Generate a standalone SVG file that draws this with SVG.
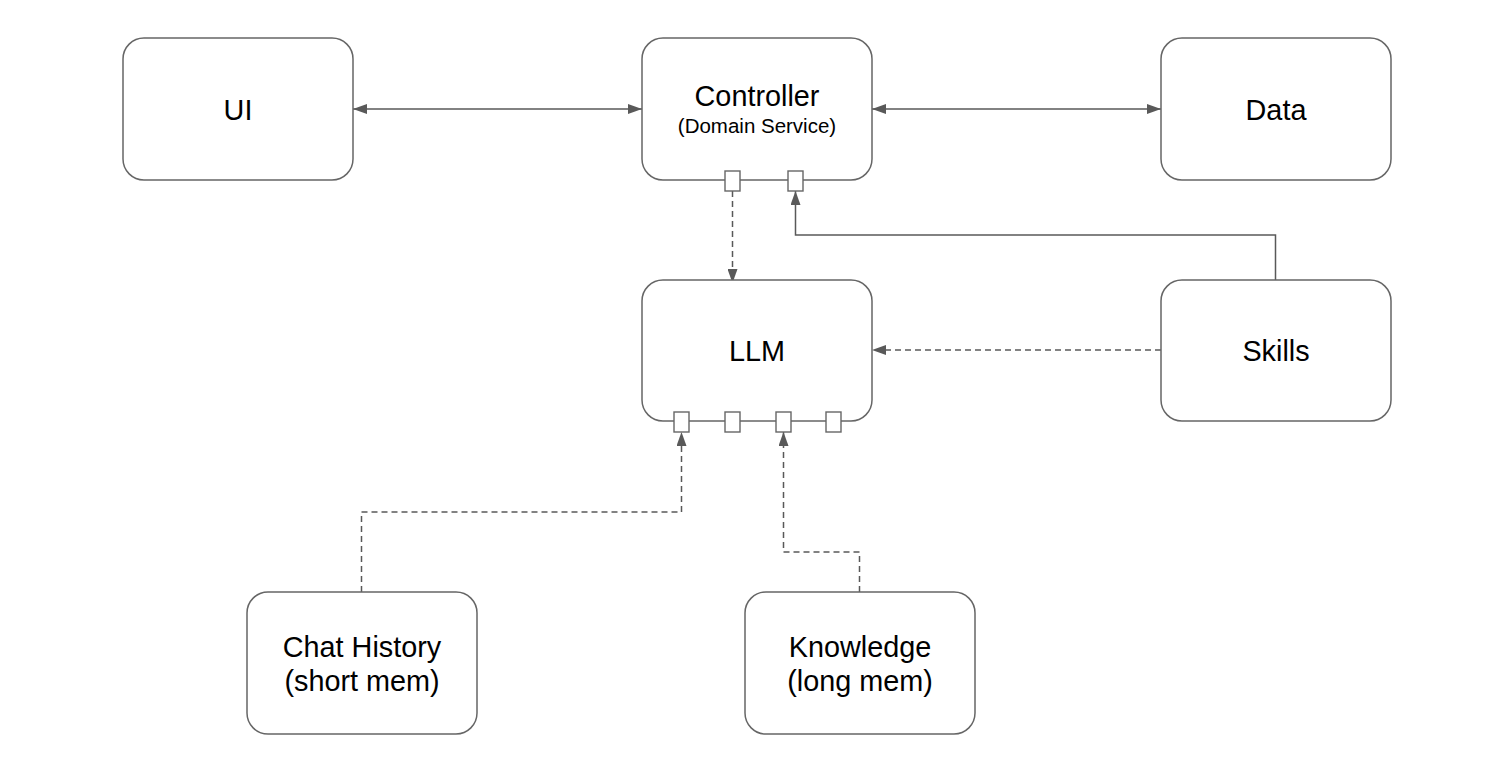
<svg xmlns="http://www.w3.org/2000/svg" width="1510" height="773" viewBox="0 0 1510 773">
<style>
.box{fill:#ffffff;stroke:#666666;stroke-width:1.5}
.port{fill:#ffffff;stroke:#666666;stroke-width:1.4}
.lbl{font-family:"Liberation Sans",Arial,sans-serif;font-size:28.8px;fill:#000000;text-anchor:middle}
.sub{font-family:"Liberation Sans",Arial,sans-serif;font-size:20.5px;fill:#000000;text-anchor:middle}
.con{fill:none;stroke:#595959;stroke-width:1.5}
.dash{stroke-dasharray:6 4}
</style>
<defs>
<marker id="arr" viewBox="0 0 14 10" refX="14" refY="5" markerWidth="14" markerHeight="10" markerUnits="userSpaceOnUse" orient="auto-start-reverse">
<path d="M0,0 L14,5 L0,10 Z" fill="#595959"/>
</marker>
</defs>
<rect width="1510" height="773" fill="#ffffff"/>
<g id="connectors">
<line class="con" x1="353" y1="109" x2="642" y2="109" marker-start="url(#arr)" marker-end="url(#arr)"/>
<line class="con" x1="872" y1="109" x2="1161" y2="109" marker-start="url(#arr)" marker-end="url(#arr)"/>
<line class="con dash" x1="732.5" y1="191" x2="732.5" y2="283" marker-end="url(#arr)"/>
<path class="con" d="M1275.5,280 V235 H795.5 V191" marker-end="url(#arr)"/>
<line class="con dash" x1="1161" y1="350" x2="872" y2="350" marker-end="url(#arr)"/>
<path class="con dash" d="M361.5,592 V512 H681.5 V432" marker-end="url(#arr)"/>
<path class="con dash" d="M859.5,592 V552 H783.5 V432" marker-end="url(#arr)"/>
</g>
<g id="ui">
<rect class="box" x="123" y="38" width="230" height="142" rx="21"/>
<text class="lbl" x="238" y="119.5">UI</text>
</g>
<g id="controller">
<rect class="box" x="642" y="38" width="230" height="142" rx="21"/>
<text class="lbl" x="757" y="106">Controller</text>
<text class="sub" x="757" y="133">(Domain Service)</text>
<rect class="port" x="725" y="171" width="15" height="20"/>
<rect class="port" x="788" y="171" width="15" height="20"/>
</g>
<g id="data">
<rect class="box" x="1161" y="38" width="230" height="142" rx="21"/>
<text class="lbl" x="1276" y="119.5">Data</text>
</g>
<g id="llm">
<rect class="box" x="642" y="280" width="230" height="141" rx="21"/>
<text class="lbl" x="757" y="361">LLM</text>
<rect class="port" x="674" y="412" width="15" height="20"/>
<rect class="port" x="725" y="412" width="15" height="20"/>
<rect class="port" x="776" y="412" width="15" height="20"/>
<rect class="port" x="826" y="412" width="15" height="20"/>
</g>
<g id="skills">
<rect class="box" x="1161" y="280" width="230" height="141" rx="21"/>
<text class="lbl" x="1276" y="361">Skills</text>
</g>
<g id="chat-history">
<rect class="box" x="247" y="592" width="230" height="142" rx="21"/>
<text class="lbl" x="362" y="656.5">Chat History</text>
<text class="lbl" x="362" y="690.5">(short mem)</text>
</g>
<g id="knowledge">
<rect class="box" x="745" y="592" width="230" height="142" rx="21"/>
<text class="lbl" x="860" y="656.5">Knowledge</text>
<text class="lbl" x="860" y="690.5">(long mem)</text>
</g>
</svg>
